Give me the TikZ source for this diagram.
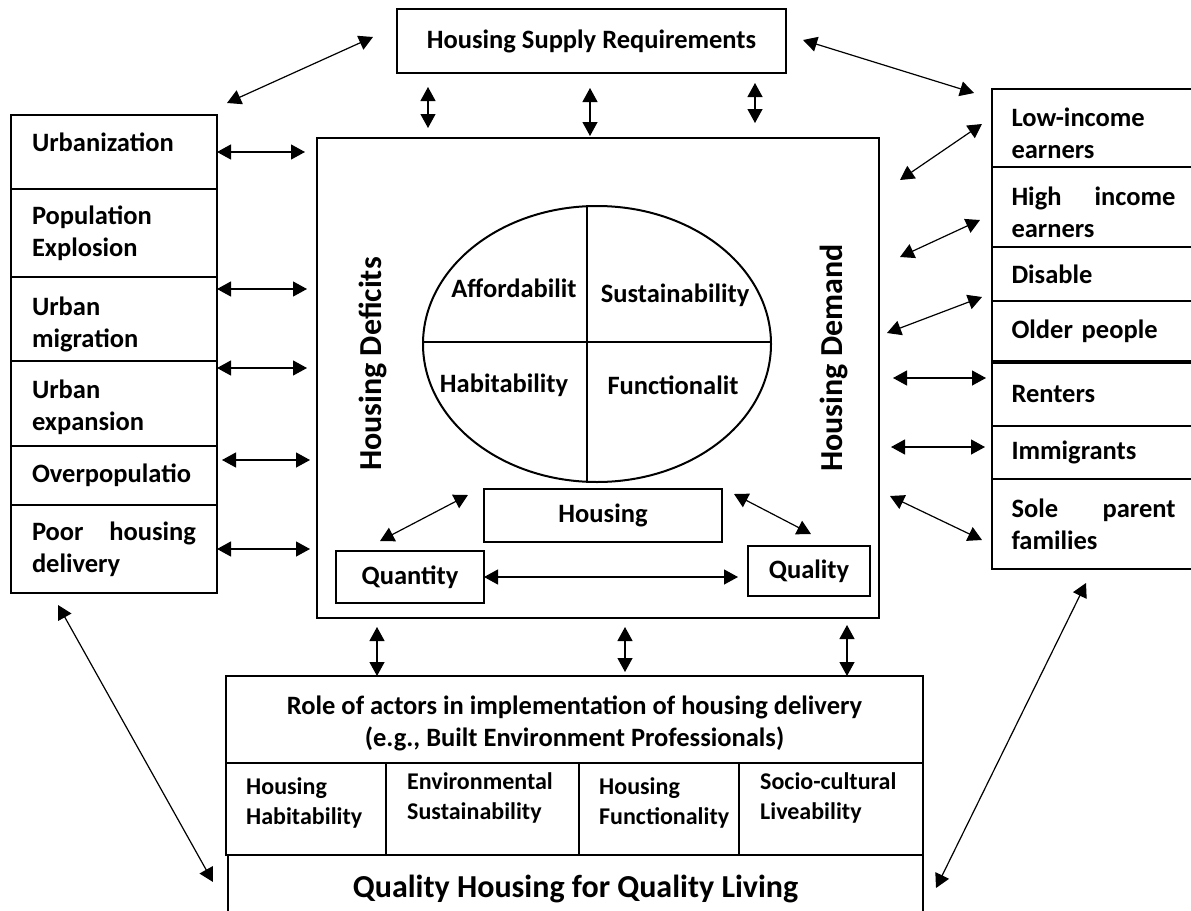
\documentclass[tikz,border=0pt]{standalone}
\usepackage{fontspec}
\setmainfont{Carlito}
\usetikzlibrary{shapes.geometric, arrows.meta}
\usetikzlibrary{positioning}
\hyphenpenalty=10000
\exhyphenpenalty=10000
\newcommand{\nodefont}{\fontsize{26.5pt}{32pt}\selectfont\bfseries}
\newcommand{\cellfont}{\fontsize{24pt}{30pt}\selectfont\bfseries}
\newcommand{\axisfont}{\fontsize{32pt}{38pt}\selectfont\bfseries}
\newcommand{\lift}[1]{\rule{0pt}{#1}}
\tikzset{
    box/.style = {
        rectangle,
        draw,
        line width=1.2pt,
        inner sep=0pt,
        outer sep=0pt,
        anchor=north west,
        font=\nodefont,
    },
    sidebox/.style = {
        box,
        minimum width=206pt,
        text width=164pt,
        align=left,
    },
    groupbox/.style = {
        box,
        minimum width=203pt,
        text width=164pt,
        align=left,
    },
    cellbox/.style = {
        box,
        minimum height=92pt,
    },
    celltext/.style = {
        anchor=west,
        inner sep=0pt,
        align=left,
        font=\cellfont,
    },
    quadtext/.style = {
        inner sep=0pt,
        font=\nodefont,
    },
    sidetitle/.style = {
        rotate=90,
        inner sep=0pt,
        font=\axisfont,
    },
}
\tikzstyle{arrow} = [line width=1.2pt, <->, >={Triangle[length=14pt, width=15pt]}]

\begin{document}
\begin{tikzpicture}[x=1pt, y=-1pt]
        \useasboundingbox (0,0) rectangle (1191,910);
        \clip (0,0) rectangle (1191,910);

        % top and centre
        \node(supply) [box, minimum width=389pt, minimum height=64pt] at (397,9)
        {Housing Supply Requirements};
        \node(main) [box, minimum width=562pt, minimum height=480pt] at (317,138)
        {};
        \node(circ) [ellipse, draw, line width=2pt, inner sep=0pt,
            minimum width=348pt, minimum height=276pt] at (597,344)
        {};
        \draw [line width=1.2pt] ([xshift=-10pt]circ.north) -- ([xshift=-10pt]circ.south);
        \draw [line width=1.2pt] ([yshift=2pt]circ.west) -- ([yshift=2pt]circ.east);
        \node(afford) [quadtext] at (514,288)
        {Affordabilit};
        \node(sustain) [quadtext] at (675,295)
        {Sustainability};
        \node(habit) [quadtext] at (504,385)
        {Habitability};
        \node(funct) [quadtext] at (673,385)
        {Functionalit};
        \node(deficit) [sidetitle] at (373,364)
        {Housing Deficits};
        \node(demand) [sidetitle] at (834,358)
        {Housing Demand};
        \node(housing) [box, minimum width=238pt, minimum height=53pt] at (484,489)
        {Housing};
        \node(qty) [box, minimum width=148pt, minimum height=52pt] at (336,551)
        {Quantity};
        \node(qual) [box, minimum width=122pt, minimum height=50pt] at (748,546)
        {Quality};

        % left column
        \node(urb) [sidebox, minimum height=74pt] at (11,115)
        {\raisebox{19pt}{Urbanization}};
        \node(pop) [sidebox, minimum height=88pt, below=0pt of urb]
        {Population\\Explosion};
        \node(mig) [sidebox, minimum height=84pt, below=0pt of pop]
        {\lift{28.5pt}Urban\\migration};
        \node(exp) [sidebox, minimum height=85pt, below=0pt of mig]
        {\lift{27pt}Urban\\expansion};
        \node(ovp) [sidebox, minimum height=59pt, below=0pt of exp]
        {Overpopulatio};
        \node(poor) [sidebox, align=justify, minimum height=88pt, below=0pt of ovp]
        {Poor housing\linebreak delivery};

        % right column
        \node(low) [groupbox, minimum height=78pt] at (992,89)
        {\lift{30pt}Low-income\\earners};
        \node(high) [groupbox, align=justify, minimum height=80pt, below=0pt of low]
        {\lift{29pt}High income\linebreak earners};
        \node(dis) [groupbox, minimum height=54pt, below=0pt of high]
        {Disable};
        \node(old) [groupbox, minimum height=60pt, below=0pt of dis]
        {Older people};
        \node(rent) [groupbox, minimum height=63pt, below=2pt of old]
        {Renters};
        \node(imm) [groupbox, minimum height=53pt, below=0pt of rent]
        {Immigrants};
        \node(sole) [groupbox, align=justify, minimum height=90pt, below=0pt of imm]
        {Sole parent\linebreak families};

        % bottom block
        \node(role) [box, align=center, minimum width=697pt, minimum height=87pt] at (226,676)
        {\lift{26.5pt}Role of actors in implementation of housing delivery\\(e.g., Built Environment Professionals)};
        \node(c1) [cellbox, minimum width=160pt, below right=0pt and 0pt of role.south west]
        {};
        \node(c2) [cellbox, minimum width=193pt, right=0pt of c1]
        {};
        \node(c3) [cellbox, minimum width=160pt, right=0pt of c2]
        {};
        \node(c4) [cellbox, minimum width=184pt, right=0pt of c3]
        {};
        \node(t1) [celltext] at (246,803)
        {Housing\\Habitability};
        \node(t2) [celltext] at (407,798)
        {Environmental\\Sustainability};
        \node(t3) [celltext] at (599,803)
        {Housing\\Functionality};
        \node(t4) [celltext] at (760,798)
        {Socio-cultural\\Liveability};
        \node(goal) [box, font=\axisfont, minimum width=695pt, minimum height=60pt,
            below right=0pt and 2pt of c1.south west]
        {\lift{30pt}Quality Housing for Quality Living};

        % arrow ends
        \coordinate (ta1) at (227,103);
        \coordinate (ta2) at (373,37);
        \coordinate (tb1) at (803,40);
        \coordinate (tb2) at (974,93);
        \coordinate (v1a) at (428,87);
        \coordinate (v1b) at (428,128);
        \coordinate (v2a) at (590,88);
        \coordinate (v2b) at (590,136);
        \coordinate (v3a) at (755,83);
        \coordinate (v3b) at (755,123);
        \coordinate (lmig) at ([yshift=-12pt]mig.north east);
        \coordinate (lexp) at ([yshift=-7pt]exp.north east);
        \coordinate (lovp) at ([xshift=5pt, yshift=-14pt]ovp.north east);
        \coordinate (r1a) at (900,180);
        \coordinate (r1b) at (982,124);
        \coordinate (r2a) at (900,257);
        \coordinate (r2b) at (980,220);
        \coordinate (r3a) at (887,333);
        \coordinate (r3b) at (982,297);
        \coordinate (r4a) at (893,378);
        \coordinate (r4b) at (986,378);
        \coordinate (r5a) at (891,447);
        \coordinate (r5b) at (985,447);
        \coordinate (r6a) at (890,496);
        \coordinate (r6b) at (982,540);
        \coordinate (hq1) at (380,541);
        \coordinate (hq2) at (468,495);
        \coordinate (hl1) at (734,494);
        \coordinate (hl2) at (811,534);
        \coordinate (b1) at (377,627);
        \coordinate (b2) at (625,627);
        \coordinate (b3) at (847,625);
        \coordinate (da1) at (58,605);
        \coordinate (da2) at (213,882);
        \coordinate (db1) at (1086,583);
        \coordinate (db2) at (936,888);

        \draw [arrow] (ta1) -- (ta2);
        \draw [arrow] (tb1) -- (tb2);
        \draw [arrow] (v1a) -- (v1b);
        \draw [arrow] (v2a) -- (v2b);
        \draw [arrow] (v3a) -- (v3b);
        \draw [arrow, shorten >=12pt] (urb.east) -- (urb.east -| main.west);
        \draw [arrow, shorten >=10pt] (lmig) -- (lmig -| main.west);
        \draw [arrow, shorten >=10pt] (lexp) -- (lexp -| main.west);
        \draw [arrow, shorten >=7pt] (lovp) -- (lovp -| main.west);
        \draw [arrow, shorten >=7pt] (poor.east) -- (poor.east -| main.west);
        \draw [arrow] (r1a) -- (r1b);
        \draw [arrow] (r2a) -- (r2b);
        \draw [arrow] (r3a) -- (r3b);
        \draw [arrow] (r4a) -- (r4b);
        \draw [arrow] (r5a) -- (r5b);
        \draw [arrow] (r6a) -- (r6b);
        \draw [arrow] (hq1) -- (hq2);
        \draw [arrow] (hl1) -- (hl2);
        \draw [arrow, shorten >=10pt] (qty.east) -- (qty.east -| qual.west);
        \draw [arrow] (b1) -- (b1 |- role.north);
        \draw [arrow, shorten >=4pt] (b2) -- (b2 |- role.north);
        \draw [arrow] (b3) -- (b3 |- role.north);
        \draw [arrow] (da1) -- (da2);
        \draw [arrow] (db1) -- (db2);

    \end{tikzpicture}
\end{document}
